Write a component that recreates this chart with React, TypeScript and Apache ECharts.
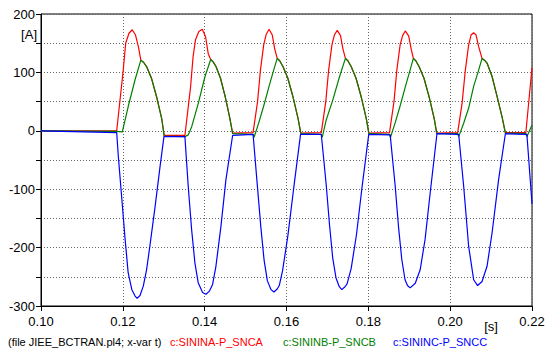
import React, { useEffect, useRef } from 'react';
import * as echarts from 'echarts';

// time [s], current [A]
const redCurrent: [number, number][] = [
  [0.1, 0], [0.1185, 0],
  [0.1201, 104], [0.1207, 150], [0.1215, 167], [0.1223, 173], [0.1231, 164], [0.1238, 144], [0.1244, 121],
  [0.1251, 117], [0.1258, 110], [0.127, 90], [0.1283, 57], [0.1295, 21], [0.1301, -8],
  [0.13517, -8],
  [0.13657, 76], [0.13717, 127], [0.13777, 156], [0.13857, 170], [0.13942, 174], [0.14022, 161], [0.14087, 132], [0.14147, 122],
  [0.14207, 118], [0.14277, 110], [0.14387, 90], [0.14507, 57], [0.14617, 21], [0.14683, -4],
  [0.15183, -3],
  [0.15293, 50], [0.15363, 104], [0.15443, 147], [0.15503, 165], [0.15573, 174], [0.15653, 164], [0.15713, 140], [0.15773, 124],
  [0.15833, 120], [0.15913, 110], [0.16033, 90], [0.16163, 57], [0.16283, 21], [0.1635, -4],
  [0.1685, -3],
  [0.1696, 50], [0.1703, 104], [0.1711, 147], [0.1717, 164], [0.1724, 172], [0.1732, 163], [0.1738, 140], [0.1744, 124],
  [0.175, 120], [0.1758, 110], [0.177, 90], [0.1783, 57], [0.1795, 21], [0.18013, -4],
  [0.18517, -3],
  [0.18627, 50], [0.18697, 104], [0.18777, 147], [0.18837, 163], [0.18903, 171], [0.18987, 162], [0.19047, 140], [0.191, 124],
  [0.1916, 120], [0.1924, 110], [0.1936, 90], [0.1949, 57], [0.1961, 21], [0.19672, -4],
  [0.20183, -3],
  [0.20291, 47], [0.20371, 104], [0.20452, 147], [0.2051, 164], [0.20574, 168], [0.20633, 164], [0.20696, 144], [0.20779, 124],
  [0.2084, 121], [0.20901, 116], [0.21024, 93], [0.21146, 59], [0.21268, 24], [0.21349, -3],
  [0.2185, -3], [0.22, 108],
];

const greenCurrent: [number, number][] = [
  [0.1, 0], [0.1185, -1], [0.11987, -2],
  [0.12133, 42], [0.12297, 87], [0.1244, 121],
  [0.1251, 117], [0.1258, 110], [0.127, 90], [0.1283, 57], [0.1295, 21], [0.1301, -9],
  [0.13517, -10],
  [0.136, -7], [0.13683, 7], [0.13844, 47], [0.14008, 93], [0.14147, 122],
  [0.14207, 118], [0.14277, 110], [0.14387, 90], [0.14507, 57], [0.14617, 21], [0.14683, -5],
  [0.15183, -6], [0.15208, -11],
  [0.15323, 14], [0.15453, 45], [0.15573, 76], [0.15683, 103], [0.15773, 124],
  [0.15833, 120], [0.15913, 110], [0.16033, 90], [0.16163, 57], [0.16283, 21], [0.1635, -5],
  [0.1685, -6], [0.16875, -11],
  [0.16972, 19], [0.17133, 53], [0.17297, 93], [0.1744, 124],
  [0.175, 120], [0.1758, 110], [0.177, 90], [0.1783, 57], [0.1795, 21], [0.18013, -5],
  [0.18517, -6], [0.18542, -11],
  [0.18657, 14], [0.18787, 45], [0.18907, 76], [0.19017, 103], [0.191, 124],
  [0.1916, 120], [0.1924, 110], [0.1936, 90], [0.1949, 57], [0.1961, 21], [0.19672, -5],
  [0.20183, -5], [0.20208, -10],
  [0.2033, 13], [0.20452, 39], [0.20574, 76], [0.20696, 104], [0.20779, 124],
  [0.2084, 121], [0.20901, 116], [0.21024, 93], [0.21146, 59], [0.21268, 24], [0.21349, -4],
  [0.2185, -5], [0.21875, -10], [0.22, 10],
];

const blueCurrent: [number, number][] = [
  [0.1, 0], [0.1185, -3],
  [0.1189, -44], [0.1197, -112], [0.1205, -181], [0.1213, -243], [0.1222, -272], [0.123, -283], [0.1235, -287],
  [0.1242, -282], [0.125, -266], [0.1258, -238], [0.1266, -198], [0.1279, -129], [0.1291, -61], [0.13005, -10],
  [0.13517, -10],
  [0.13598, -95], [0.13681, -169], [0.13761, -226], [0.13842, -260], [0.13949, -277], [0.1403, -280],
  [0.14111, -275], [0.14194, -263], [0.14275, -232], [0.14397, -164], [0.14519, -84], [0.14683, -8],
  [0.15183, -6],
  [0.15283, -90], [0.15373, -165], [0.15453, -222], [0.15533, -257], [0.15623, -272], [0.15693, -276],
  [0.15773, -271], [0.15823, -265], [0.15903, -240], [0.16033, -180], [0.16173, -100], [0.16343, -6],
  [0.1685, -6],
  [0.1697, -92], [0.1705, -160], [0.1713, -218], [0.1721, -252], [0.1729, -267], [0.1735, -272],
  [0.1743, -267], [0.1748, -262], [0.1758, -236], [0.1771, -178], [0.1784, -100], [0.1801, -6],
  [0.18534, -7],
  [0.18657, -95], [0.18737, -164], [0.18817, -220], [0.18897, -255], [0.18957, -265], [0.19022, -269],
  [0.19147, -261], [0.19267, -238], [0.19387, -186], [0.19512, -106], [0.19677, -5],
  [0.20208, -6],
  [0.2033, -95], [0.20452, -198], [0.20574, -255], [0.20672, -265],
  [0.20779, -258], [0.20901, -232], [0.21024, -175], [0.21183, -84], [0.21349, -5],
  [0.21875, -6], [0.22, -125],
];

const seriesNames = ['c:SININA-P_SNCA', 'c:SININB-P_SNCB', 'c:SININC-P_SNCC'];
const seriesColors = ['#ff0000', '#008000', '#0000ff'];
const fileCaption = '(file JIEE_BCTRAN.pl4; x-var t)';
const yUnit = '[A]';
const xUnit = '[s]';

const FONT = '"Liberation Sans", Arial, sans-serif';

export default function App() {
  const ref = useRef<HTMLDivElement>(null);
  useEffect(() => {
    document.body.style.margin = '0';
    const chart = echarts.init(ref.current!, undefined, { renderer: 'svg' });
    const grid = { left: 41, top: 14, width: 491, height: 292 };
    const gridLine = { show: true, lineStyle: { color: '#666', type: [1, 2] as any, width: 1 } };
    chart.setOption({
      animation: false,
      backgroundColor: '#fff',
      grid: { ...grid, show: true, borderColor: '#000', borderWidth: 1, outerBoundsMode: 'none', containLabel: false },
      xAxis: {
        type: 'value', min: 0.1, max: 0.22, interval: 0.02,
        axisLine: { show: true, onZero: false, lineStyle: { color: '#000', width: 1 } },
        axisTick: { show: true, length: 5, lineStyle: { color: '#000' } },
        axisLabel: { color: '#000', fontSize: 13, fontFamily: FONT, margin: 9, formatter: (v: number) => v.toFixed(2) },
        splitLine: gridLine,
      },
      yAxis: {
        type: 'value', min: -300, max: 200, interval: 50,
        axisLine: { show: true, onZero: false, lineStyle: { color: '#000', width: 1 } },
        axisTick: { show: true, length: 5, lineStyle: { color: '#000' } },
        axisLabel: {
          color: '#000', fontSize: 13, fontFamily: FONT, margin: 6,
          formatter: (v: number) => (Math.round(v) % 100 === 0 ? String(Math.round(v)) : ''),
        },
        splitLine: gridLine,
      },
      series: [redCurrent, greenCurrent, blueCurrent].map((d, i) => ({
        name: seriesNames[i],
        type: 'line',
        data: d,
        showSymbol: false,
        symbol: 'none',
        lineStyle: { color: seriesColors[i], width: 1.2 },
        z: 2 + i,
      })),
      graphic: [
        { type: 'text', x: 37, y: 34, style: { text: yUnit, fill: '#000', font: `13px ${FONT}`, textAlign: 'right', textVerticalAlign: 'middle' } },
        { type: 'text', x: 491, y: 326, style: { text: xUnit, fill: '#000', font: `13px ${FONT}`, textAlign: 'center', textVerticalAlign: 'middle' } },
        { type: 'text', x: 8, y: 342, style: { text: fileCaption, fill: '#000', font: `11px ${FONT}`, textAlign: 'left', textVerticalAlign: 'middle' } },
        { type: 'text', x: 170, y: 342, style: { text: seriesNames[0], fill: seriesColors[0], font: `11px ${FONT}`, textAlign: 'left', textVerticalAlign: 'middle' } },
        { type: 'text', x: 283, y: 342, style: { text: seriesNames[1], fill: seriesColors[1], font: `11px ${FONT}`, textAlign: 'left', textVerticalAlign: 'middle' } },
        { type: 'text', x: 393, y: 342, style: { text: seriesNames[2], fill: seriesColors[2], font: `11px ${FONT}`, textAlign: 'left', textVerticalAlign: 'middle' } },
      ],
    });
    return () => chart.dispose();
  }, []);
  return <div ref={ref} style={{ width: 548, height: 349 }} />;
}
